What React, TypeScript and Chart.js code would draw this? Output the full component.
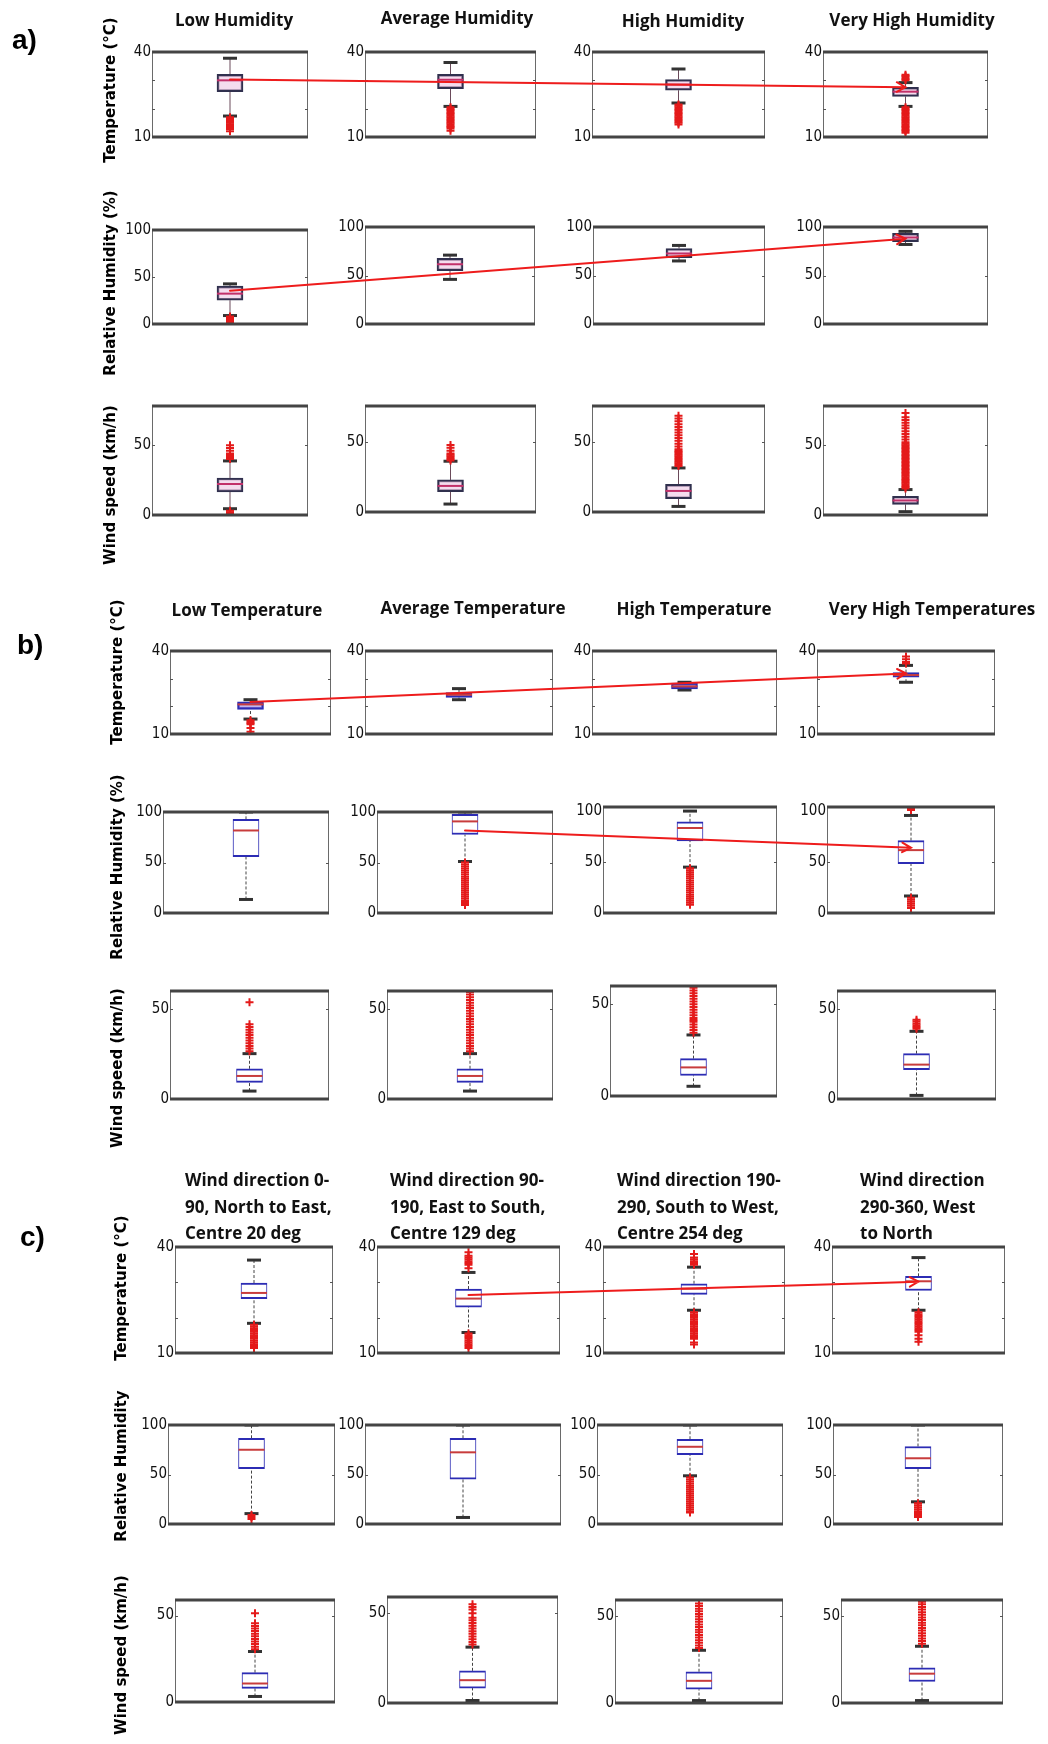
import React, { useEffect, useRef } from 'react';
import { Chart, registerables } from 'chart.js';

Chart.register(...registerables);

// ---------------- categories / text ----------------
const humidityClasses = ['Low Humidity', 'Average Humidity', 'High Humidity', 'Very High Humidity'];
const temperatureClasses = ['Low Temperature', 'Average Temperature', 'High Temperature', 'Very High Temperatures'];
const windDirectionClasses = [
  ['Wind direction 0-', '90, North to East,', 'Centre 20 deg'],
  ['Wind direction 90-', '190, East to South,', 'Centre 129 deg'],
  ['Wind direction 190-', '290, South to West,', 'Centre 254 deg'],
  ['Wind direction', '290-360, West', 'to North'],
];
const sectionLabels = ['a)', 'b)', 'c)'];
const yTitlesA = ['Temperature (°C)', 'Relative Humidity (%)', 'Wind speed (km/h)'];
const yTitlesB = ['Temperature (°C)', 'Relative Humidity (%)', 'Wind speed (km/h)'];
const yTitlesC = ['Temperature (°C)', 'Relative Humidity', 'Wind speed (km/h)'];

// ---------------- tick labels ----------------
const tempTicks = [10, 40];
const rhTicks = [0, 50, 100];
const windTicks = [0, 50];
const tempMarks = [20, 30];
const rhMarks = [50];
const windMarks = [50];

// ---------------- box statistics: [lower whisker, Q1, median, Q3, upper whisker] ----------------
// a) humidity classes
const aTempBoxes = [
  [17.4, 26.0, 30.0, 32.1, 37.8],
  [20.8, 27.1, 30.2, 32.1, 36.3],
  [22.0, 26.5, 28.5, 30.3, 34.0],
  [20.8, 24.3, 26.0, 27.5, 29.2],
];
const aTempOutliers = [
  [17.0, 16.5, 16.0, 15.5, 15.0, 14.5, 14.0, 13.5, 12.8, 12.0],
  [20.5, 20.0, 19.5, 19.0, 18.5, 18.0, 17.5, 17.0, 16.5, 16.0, 15.5, 15.0, 14.5, 14.0, 13.5, 13.0, 12.2],
  [21.5, 21.0, 20.5, 20.0, 19.5, 19.0, 18.5, 18.0, 17.5, 17.0, 16.5, 16.0, 15.5, 15.0, 14.4],
  [32.0, 31.5, 31.0, 30.5, 30.0, 20.5, 20.0, 19.5, 19.0, 18.5, 18.0, 17.5, 17.0, 16.5, 16.0, 15.5, 15.0, 14.5, 14.0, 13.5, 13.0, 12.5, 12.0, 11.5],
];
const aRhBoxes = [
  [9.0, 25.3, 32.3, 40.3, 42.7],
  [46.0, 54.9, 61.6, 67.7, 71.0],
  [65.0, 68.4, 72.7, 77.8, 81.0],
  [82.0, 85.0, 89.2, 93.5, 95.5],
];
const aRhOutliers = [[8, 7, 6, 5, 4, 3, 2], [], [], []];
const aWindBoxes = [
  [4.5, 16.6, 22.2, 26.5, 38.7],
  [5.7, 14.6, 18.7, 23.0, 36.4],
  [4.0, 9.5, 15.1, 19.8, 31.6],
  [2.4, 7.6, 10.4, 13.4, 18.2],
];
const aWindOutliers = [
  [40, 41, 42, 43, 44, 46, 48, 50, 3, 2, 1],
  [37, 38, 39, 40, 41, 42, 44, 46, 48],
  [33, 34, 35, 36, 37, 38, 39, 40, 41, 42, 43, 44, 45, 47, 49, 51, 53, 55, 57, 59, 61, 63, 65, 67, 69],
  [19, 20, 21, 22, 23, 24, 25, 26, 27, 28, 29, 30, 31, 32, 33, 34, 35, 36, 37, 38, 39, 40, 41, 42, 43, 44, 45, 46, 47, 48, 49, 50, 51, 52, 54, 56, 58, 60, 62, 64, 66, 68, 70, 73],
];

// b) temperature classes
const bTempBoxes = [
  [15.4, 18.9, 20.7, 21.6, 22.4],
  [22.4, 23.2, 24.2, 25.0, 26.4],
  [25.9, 26.3, 27.2, 28.4, 28.7],
  [28.7, 30.5, 31.3, 32.2, 34.8],
];
const bTempOutliers = [
  [15.0, 14.5, 14.0, 13.5, 12.2, 10.8],
  [],
  [],
  [35.5, 36.0, 37.0, 38.0],
];
const bRhBoxes = [
  [13.4, 55.7, 81.7, 92.7, 100],
  [51.0, 77.7, 90.7, 97.7, 100],
  [45.0, 70.7, 83.4, 89.4, 100],
  [16.7, 48.4, 61.7, 71.0, 95.7],
];
const bRhOutliers = [
  [],
  [50, 48, 46, 44, 42, 40, 38, 36, 34, 32, 30, 28, 26, 24, 22, 20, 18, 16, 14, 12, 10, 8],
  [44, 42, 40, 38, 36, 34, 32, 30, 28, 26, 24, 22, 20, 18, 16, 14, 12, 10, 8],
  [103, 101, 15, 13, 11, 9, 7, 5],
];
const bWindBoxes = [
  [4.4, 9.2, 12.8, 16.8, 25.2],
  [4.4, 9.2, 12.8, 16.8, 25.2],
  [5.3, 11.2, 15.6, 20.4, 33.3],
  [2.0, 16.3, 19.1, 25.2, 37.6],
];
const bWindOutliers = [
  [26.5, 28, 29.5, 31, 32.5, 34, 35.5, 37, 38.5, 40, 41.5, 53.7],
  [26.5, 28, 29.5, 31, 32.5, 34, 35.5, 37, 38.5, 40, 41.5, 43, 44.5, 46, 47.5, 49, 50.5, 52, 53.5, 55, 56.5, 58, 59.5],
  [34.5, 36, 37.5, 39, 40.5, 41.5, 42.5, 44, 45.5, 47, 48.5, 50, 51.5, 53, 54.5, 56, 57.5, 59],
  [39, 40, 41, 42, 43, 44],
];

// c) wind direction classes
const cTempBoxes = [
  [18.4, 25.4, 27.0, 29.8, 36.3],
  [15.8, 23.0, 25.4, 28.1, 32.8],
  [22.1, 26.6, 28.2, 29.6, 34.3],
  [22.1, 27.7, 30.3, 31.7, 37.0],
];
const cTempOutliers = [
  [18, 17.5, 17, 16.5, 16, 15.5, 15, 14.5, 14, 13.5, 13, 12.5, 12, 11.4],
  [38.5, 37.5, 37, 36.5, 36, 35.5, 35, 34, 15.5, 15, 14.5, 14, 13.5, 13, 12.5, 12, 11.4],
  [38, 37, 36.5, 36, 35.5, 35, 21.5, 21, 20.5, 20, 19.5, 19, 18.5, 18, 17.5, 17, 16.5, 16, 15.5, 15, 14.5, 14, 13, 12.4],
  [21.5, 21, 20.5, 20, 19.5, 19, 18.5, 18, 17.5, 17, 16.5, 16, 15, 14, 13.2],
];
const cRhBoxes = [
  [10.5, 56.0, 75.0, 86.6, 100],
  [6.6, 45.4, 72.4, 86.6, 100],
  [48.7, 70.0, 78.0, 85.6, 100],
  [22.4, 56.0, 66.4, 78.3, 100],
];
const cRhOutliers = [
  [9, 7, 5],
  [],
  [47, 45, 43, 41, 39, 37, 35, 33, 31, 29, 27, 25, 23, 21, 19, 17, 15, 13, 11.5],
  [21, 19, 17, 15, 13, 11, 9, 7],
];
const cWindBoxes = [
  [3.2, 7.9, 10.7, 17.0, 29.2],
  [1.4, 8.3, 12.7, 17.9, 31.1],
  [1.4, 7.9, 12.7, 17.9, 30.2],
  [1.4, 12.3, 16.8, 20.2, 32.5],
];
const cWindOutliers = [
  [30.5, 32, 33.5, 35, 36.5, 38, 39.5, 41, 42.5, 44, 45.5, 51.3],
  [32.5, 34, 35.5, 37, 38.5, 40, 41.5, 43, 44.5, 46, 47.5, 50, 52, 53.5, 55],
  [31.5, 33, 34.5, 36, 37.5, 39, 40.5, 42, 43.5, 45, 46.5, 48, 49.5, 51, 52.5, 54, 55.5, 57, 59],
  [34, 35.5, 37, 38.5, 40, 41.5, 43, 44.5, 46, 47.5, 49, 50.5, 52, 53.5, 55, 56.5, 58, 59],
];

// trend arrows: [from column, from value, to column, to value]
const aTempTrend = [0, 30.3, 3, 27.6];
const aRhTrend = [0, 35.4, 3, 88];
const bTempTrend = [0, 21.6, 3, 31.9];
const bRhTrend = [1, 81.7, 3, 64];
const cTempTrend = [1, 26.4, 3, 30.2];

// ---------------- layout (positions / styles) ----------------
const AXW = 44;
const PADV = 14;
const PADR = 3;
const BOXW = 26;
const CAPR = 7;
const TICK_FONT = "'Liberation Sans Narrow', 'Arial Narrow', 'DejaVu Sans Condensed', 'Liberation Sans', sans-serif";
const TITLE_FONT = "'Open Sans', Lato, sans-serif";
const YTITLE_FONT = "'DejaVu Sans', Verdana, sans-serif";

interface PanelStyle { box: string; fill: string; median: string; bw: any; dash: number[]; whisker: string }
const styleA: PanelStyle = { box: '#30304e', fill: 'rgba(236,196,226,0.6)', median: '#c2306a', bw: 2, dash: [], whisker: '#6a4a5a' };
const styleB: PanelStyle = { box: '#2c2cb4', fill: '#ffffff', median: '#c83c3c', bw: { top: 2, bottom: 2, left: 1, right: 1 }, dash: [3, 2], whisker: '#444' };
const styleBT: PanelStyle = { box: '#2c2cb4', fill: 'rgba(150,130,225,0.6)', median: '#c83c3c', bw: 2, dash: [3, 2], whisker: '#444' };

type Rect = number[];
interface RowDef {
  boxes: number[][];
  outliers: number[][];
  min: number;
  max: number[];
  ticks: number[];
  marks: number[];
  rects: Rect[];
  style: PanelStyle;
  trend: number[] | null;
}

const ROWS: RowDef[] = [
  { boxes: aTempBoxes, outliers: aTempOutliers, min: 10, max: [40, 40, 40, 40], ticks: tempTicks, marks: tempMarks, style: styleA, trend: aTempTrend,
    rects: [[152, 51, 320, 138], [365, 51, 548, 138], [592, 51, 777, 138], [823, 51, 1000, 138]] },
  { boxes: aRhBoxes, outliers: aRhOutliers, min: 0, max: [100, 100, 100, 100], ticks: rhTicks, marks: rhMarks, style: styleA, trend: aRhTrend,
    rects: [[152, 229, 320, 325], [365, 226, 547, 325], [593, 226, 777, 325], [823, 226, 1000, 325]] },
  { boxes: aWindBoxes, outliers: aWindOutliers, min: 0, max: [78, 76, 76, 78], ticks: windTicks, marks: windMarks, style: styleA, trend: null,
    rects: [[152, 405, 320, 516], [365, 405, 548, 513], [592, 405, 777, 513], [823, 405, 1000, 516]] },
  { boxes: bTempBoxes, outliers: bTempOutliers, min: 10, max: [40, 40, 40, 40], ticks: tempTicks, marks: tempMarks, style: styleBT, trend: bTempTrend,
    rects: [[170, 650, 343, 735], [365, 650, 565, 735], [592, 650, 789, 735], [817, 650, 1007, 735]] },
  { boxes: bRhBoxes, outliers: bRhOutliers, min: 0, max: [100, 100, 104, 104], ticks: rhTicks, marks: rhMarks, style: styleB, trend: bRhTrend,
    rects: [[163, 811, 341, 914], [377, 811, 565, 914], [603, 806, 789, 914], [827, 806, 1007, 914]] },
  { boxes: bWindBoxes, outliers: bWindOutliers, min: 0, max: [60, 60, 60, 60], ticks: windTicks, marks: windMarks, style: styleB, trend: null,
    rects: [[170, 990, 341, 1100], [387, 990, 565, 1100], [610, 985, 789, 1097], [837, 990, 1008, 1100]] },
  { boxes: cTempBoxes, outliers: cTempOutliers, min: 10, max: [40, 40, 40, 40], ticks: tempTicks, marks: tempMarks, style: styleB, trend: cTempTrend,
    rects: [[175, 1246, 345, 1354], [377, 1246, 572, 1354], [603, 1246, 797, 1354], [832, 1246, 1017, 1354]] },
  { boxes: cRhBoxes, outliers: cRhOutliers, min: 0, max: [100, 100, 100, 100], ticks: rhTicks, marks: rhMarks, style: styleB, trend: null,
    rects: [[168, 1424, 347, 1525], [365, 1424, 573, 1525], [597, 1424, 795, 1525], [833, 1424, 1015, 1525]] },
  { boxes: cWindBoxes, outliers: cWindOutliers, min: 0, max: [59, 59, 59, 59], ticks: windTicks, marks: windMarks, style: styleB, trend: null,
    rects: [[175, 1599, 347, 1703], [387, 1596, 570, 1704], [615, 1599, 795, 1704], [841, 1599, 1015, 1704]] },
];

interface Panel {
  row: number;
  col: number;
  rect: Rect;
  box: number[];
  outliers: number[];
  min: number;
  max: number;
  ticks: number[];
  marks: number[];
  style: PanelStyle;
}

const PANELS: Panel[] = [];
ROWS.forEach((r, ri) => {
  r.rects.forEach((rect, ci) => {
    PANELS.push({
      row: ri, col: ci, rect, box: r.boxes[ci], outliers: r.outliers[ci],
      min: r.min, max: r.max[ci], ticks: r.ticks, marks: r.marks, style: r.style,
    });
  });
});

const framePlugin = {
  id: 'panelFrame',
  afterDraw(chart: any) {
    const { ctx, chartArea } = chart;
    const { left, top, right, bottom } = chartArea;
    const y = chart.scales.y;
    const marks: number[] = chart.options.plugins.panelFrame.marks || [];
    ctx.save();
    ctx.strokeStyle = '#6a6a6a';
    ctx.lineWidth = 1;
    ctx.beginPath();
    ctx.moveTo(left + 0.5, top);
    ctx.lineTo(left + 0.5, bottom);
    ctx.moveTo(right - 0.5, top);
    ctx.lineTo(right - 0.5, bottom);
    ctx.stroke();
    ctx.beginPath();
    marks.forEach((v) => {
      const py = Math.round(y.getPixelForValue(v)) + 0.5;
      ctx.moveTo(left, py);
      ctx.lineTo(left + 3, py);
      ctx.moveTo(right - 3, py);
      ctx.lineTo(right, py);
    });
    ctx.strokeStyle = '#555';
    ctx.stroke();
    ctx.strokeStyle = '#444';
    ctx.lineWidth = 3;
    ctx.beginPath();
    ctx.moveTo(left, top);
    ctx.lineTo(right, top);
    ctx.moveTo(left, bottom);
    ctx.lineTo(right, bottom);
    ctx.stroke();
    ctx.restore();
  },
};

function makeChart(canvas: HTMLCanvasElement, p: Panel) {
  const cat = 'g';
  const [lo, q1, med, q3, hi] = p.box;
  const pts = (vals: number[]) => vals.map((v) => ({ x: cat, y: v }));
  const st = p.style;
  return new Chart(canvas, {
    type: 'bar',
    data: {
      labels: [cat],
      datasets: [
        {
          type: 'bar', data: [[q1, q3]] as any, backgroundColor: st.fill, borderColor: st.box,
          borderWidth: st.bw, borderSkipped: false, barThickness: BOXW, order: 3,
        },
        { type: 'line', data: pts([q3, hi]) as any, borderColor: st.whisker, borderWidth: 1, borderDash: st.dash, pointRadius: 0, order: 5 },
        { type: 'line', data: pts([lo, q1]) as any, borderColor: st.whisker, borderWidth: 1, borderDash: st.dash, pointRadius: 0, order: 5 },
        {
          type: 'line', data: pts([lo, hi]) as any, showLine: false, pointStyle: 'line', pointRadius: CAPR,
          pointBorderWidth: 3, pointBorderColor: '#333', pointBackgroundColor: '#333', order: 4,
        },
        {
          type: 'line', data: pts([med]) as any, showLine: false, pointStyle: 'line', pointRadius: BOXW / 2,
          pointBorderWidth: 2, pointBorderColor: st.median, pointBackgroundColor: st.median, order: 2,
        },
        {
          type: 'line', data: pts(p.outliers) as any, showLine: false, pointStyle: 'cross', pointRadius: 4,
          pointBorderWidth: 2, pointBorderColor: '#e41a1a', pointBackgroundColor: '#e41a1a', order: 1,
        },
      ],
    },
    options: {
      animation: false,
      responsive: false,
      events: [],
      layout: { padding: { top: PADV, bottom: PADV, left: 0, right: PADR } },
      plugins: {
        legend: { display: false },
        tooltip: { enabled: false },
        panelFrame: { marks: p.marks },
      } as any,
      scales: {
        x: { display: false, offset: true },
        y: {
          type: 'linear',
          min: p.min,
          max: p.max,
          afterBuildTicks: (s: any) => { s.ticks = p.ticks.map((v) => ({ value: v })); },
          afterFit: (s: any) => { s.width = AXW; },
          grid: { display: false, drawTicks: false },
          border: { display: false },
          ticks: { padding: 1, color: '#111', font: { family: TICK_FONT, size: 15 } },
        },
      },
    },
    plugins: [framePlugin],
  } as any);
}

function drawTrends(canvas: HTMLCanvasElement, charts: Chart[]) {
  const ctx = canvas.getContext('2d')!;
  ctx.clearRect(0, 0, canvas.width, canvas.height);
  ROWS.forEach((r, ri) => {
    if (!r.trend) return;
    const [c1, v1, c2, v2] = r.trend;
    const pos = (c: number, v: number) => {
      const idx = ri * 4 + c;
      const ch = charts[idx];
      const rect = PANELS[idx].rect;
      const ox = rect[0] - AXW;
      const oy = rect[1] - PADV;
      return [ox + ch.scales.x.getPixelForValue(0), oy + ch.scales.y.getPixelForValue(v)];
    };
    const [x1, y1] = pos(c1, v1);
    const [x2, y2] = pos(c2, v2);
    ctx.save();
    ctx.strokeStyle = '#ee1c1c';
    ctx.lineWidth = 2;
    ctx.lineCap = 'round';
    ctx.beginPath();
    ctx.moveTo(x1, y1);
    ctx.lineTo(x2, y2);
    const a = Math.atan2(y2 - y1, x2 - x1);
    const L = 10;
    ctx.moveTo(x2 - L * Math.cos(a - 0.5), y2 - L * Math.sin(a - 0.5));
    ctx.lineTo(x2, y2);
    ctx.lineTo(x2 - L * Math.cos(a + 0.5), y2 - L * Math.sin(a + 0.5));
    ctx.stroke();
    ctx.restore();
  });
}

// text placement helpers
const TITLE_FS = 17;
const TITLE_LH = 26.5;
const titleTop = (baseline: number) => baseline - TITLE_LH / 2 - 0.388 * TITLE_FS;

const titleCentersA = [234, 457, 683, 912];
const titleBaselinesA = [27, 25, 28, 27];
const titleCentersB = [247, 473, 694, 932];
const titleBaselinesB = [617, 615, 616, 616];
const titleLeftsC = [185, 390, 617, 860];
const titleBaselineC = 1187;

const sectionLabelPos = [[12, 50], [17, 655], [20, 1247]];
const yTitleX = [110, 117, 121];
const yTitleCenters = [[90, 283, 485], [672, 867, 1068], [1288, 1466, 1655]];

export default function App() {
  const canvasRefs = useRef<(HTMLCanvasElement | null)[]>([]);
  const overlayRef = useRef<HTMLCanvasElement | null>(null);

  useEffect(() => {
    const charts = PANELS.map((p, i) => makeChart(canvasRefs.current[i]!, p));
    if (overlayRef.current) drawTrends(overlayRef.current, charts);
    return () => {
      charts.forEach((c) => c.destroy());
    };
  }, []);

  const titleStyle = (extra: any) => ({
    position: 'absolute' as const,
    fontFamily: TITLE_FONT,
    fontWeight: 700,
    fontSize: TITLE_FS,
    lineHeight: TITLE_LH + 'px',
    color: '#111',
    whiteSpace: 'nowrap' as const,
    ...extra,
  });

  return (
    <div style={{ position: 'absolute', left: 0, top: 0, width: 1048, height: 1744, overflow: 'hidden', background: '#fff' }}>
      {PANELS.map((p, i) => {
        const w = p.rect[2] - p.rect[0] + AXW + PADR;
        const h = p.rect[3] - p.rect[1] + 2 * PADV;
        return (
          <canvas
            key={i}
            ref={(el) => { canvasRefs.current[i] = el; }}
            width={w}
            height={h}
            style={{ position: 'absolute', left: p.rect[0] - AXW, top: p.rect[1] - PADV, width: w, height: h }}
          />
        );
      })}
      <canvas
        ref={overlayRef}
        width={1048}
        height={1744}
        style={{ position: 'absolute', left: 0, top: 0, width: 1048, height: 1744, pointerEvents: 'none' }}
      />
      {humidityClasses.map((t, i) => (
        <div key={'ha' + i} style={titleStyle({ left: titleCentersA[i] - 150, width: 300, textAlign: 'center', top: titleTop(titleBaselinesA[i]) })}>{t}</div>
      ))}
      {temperatureClasses.map((t, i) => (
        <div key={'tb' + i} style={titleStyle({ left: titleCentersB[i] - 150, width: 300, textAlign: 'center', top: titleTop(titleBaselinesB[i]) })}>{t}</div>
      ))}
      {windDirectionClasses.map((lines, i) => (
        <div key={'wc' + i} style={titleStyle({ left: titleLeftsC[i], top: titleTop(titleBaselineC) })}>
          {lines.map((ln, j) => (<div key={j}>{ln}</div>))}
        </div>
      ))}
      {sectionLabels.map((t, i) => (
        <div
          key={'s' + i}
          style={{
            position: 'absolute', left: sectionLabelPos[i][0], top: sectionLabelPos[i][1] - 15 - 0.3465 * 28,
            fontFamily: "'Liberation Sans', Arial, sans-serif", fontWeight: 700, fontSize: 28, lineHeight: '30px', color: '#000',
          }}
        >{t}</div>
      ))}
      {[yTitlesA, yTitlesB, yTitlesC].map((titles, si) => titles.map((t, ri) => (
        <div
          key={'y' + si + ri}
          style={{
            position: 'absolute', left: yTitleX[si] - 130, top: yTitleCenters[si][ri] - 10, width: 260, height: 20,
            lineHeight: '20px', textAlign: 'center', transform: 'rotate(-90deg)', fontFamily: YTITLE_FONT,
            fontWeight: 700, fontSize: 15, color: '#000', whiteSpace: 'nowrap',
          }}
        >{t}</div>
      )))}
    </div>
  );
}
